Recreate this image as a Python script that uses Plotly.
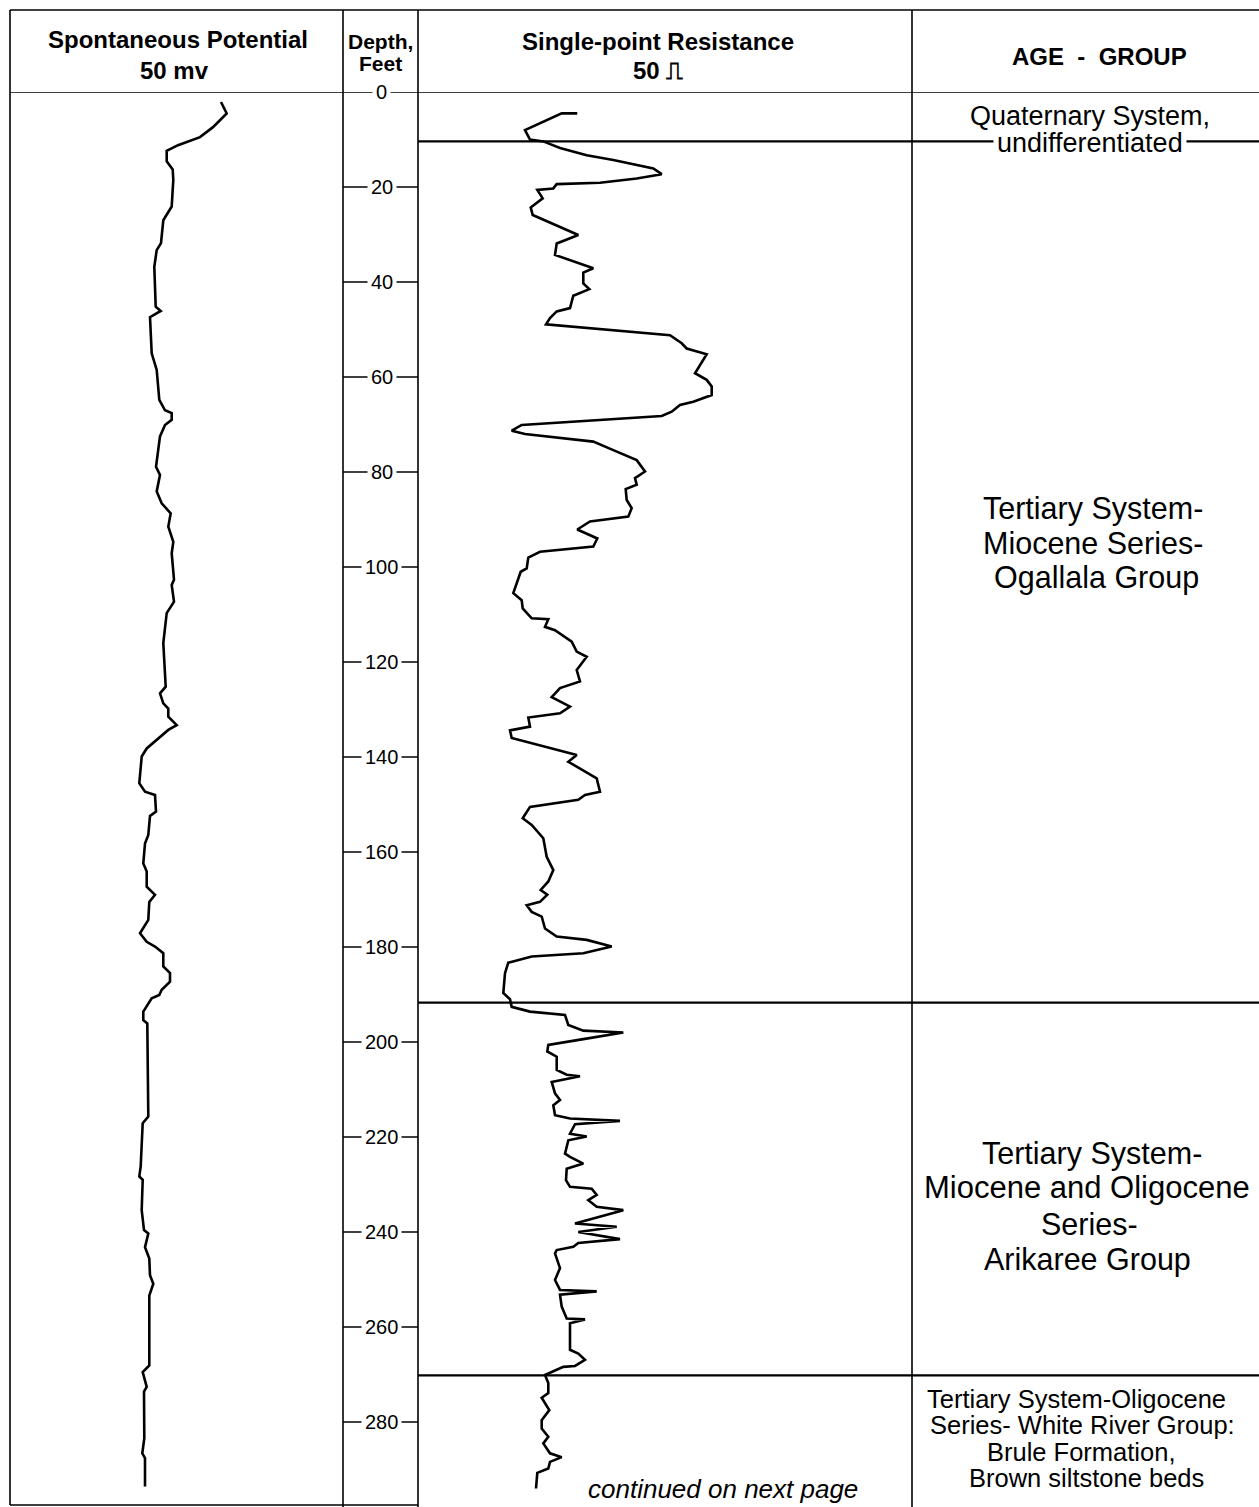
import plotly.graph_objects as go

W, H = 1259, 1507

# Spontaneous potential (relative deflection units across the track)
sp_depth = [2.1, 4.5, 7.4, 9.5, 11.2, 12.4, 14.6, 16.3, 18.5, 24.1, 27, 31.8, 33.3, 36.8,
            45.2, 46.1, 47.4, 55, 58.5, 64.8, 67, 67.6, 69, 70.1, 72.5, 78.9, 80.6, 84.1,
            86.6, 88.7, 91.5, 94.7, 97.1, 102.7, 103.8, 107.3, 109.7, 116, 125.2, 126.6,
            128.7, 129.8, 131.5, 133.3, 134.3, 138.2, 139.9, 145.5, 147.3, 148, 151.5,
            152.4, 156.4, 158.2, 162.4, 164.1, 167.3, 169, 170.5, 174.3, 177.1, 178.9,
            179.9, 181.3, 184.1, 185.5, 187.3, 189, 190.1, 190.8, 193.6, 195.4, 196.1,
            205.0, 215.7, 217.1, 226.2, 228.3, 229, 235.4, 239.6, 240.3, 243.2, 245.6, 249.1,
            250.9, 253.4, 268.1, 269.5, 272.6, 273.6, 283.4, 286.6, 287.6, 293.6]
sp_value = [221, 226.7, 213, 200, 178, 166.7, 166.7, 172.7, 173.3, 171.7, 163.3, 161, 156.7, 154.3,
            155.7, 160.7, 150, 151.7, 156.7, 159.3, 165, 171.7, 171.7, 165, 160, 156, 160, 156.7,
            161.7, 170.7, 168.3, 173.3, 171.7, 174, 171.7, 174, 166.7, 163.3, 165.7, 160,
            163.3, 168.3, 168.3, 176.7, 168.3, 146.7, 141.7, 139.3, 145, 155, 156,
            150, 148.3, 145, 143.3, 146.7, 146.7, 155, 149.3, 148.3, 140, 146.7,
            155, 163.3, 163.3, 170, 170, 161.7, 159.3, 151.7, 143.3, 143.3, 147.3,
            147.7, 148.3, 142.7, 140.7, 139.3, 142.7, 141.7, 144, 148.3, 145, 149.3, 150,
            153.3, 149.3, 149.3, 142.7, 146.7, 144, 144.3, 142.3, 145, 145]

# Single-point resistance (relative deflection units across the track)
res_depth = [4.5, 4.5, 8, 10, 10.4, 11.8, 13.3, 14.3, 16.1, 17.3, 18.2, 19.1, 19.4, 20.3, 20.6,
             22.4, 24.3, 25.9, 30.1, 31.9, 34.3, 37.1, 38, 40.3, 41.5, 42.9, 45.5, 46.2, 47.6,
             48.9, 51.2, 52.9, 54, 55.2, 59.2, 60.6, 62, 63.8, 65.2, 65.9, 67.3, 68.2, 70.1,
             71.3, 72, 73.6, 75.4, 77.5, 79.9, 81.3, 82.7, 83.6, 85.9, 87.6, 89.4, 90.4, 92.1,
             94, 95.7, 96.8, 98, 100.3, 101, 105.5, 107, 108.7, 110.8, 111, 112.6, 113.3,
             115.7, 117.8, 118.9, 121.7, 124.1, 125.5, 127.4, 129.4, 130.8, 131.7, 133.6,
             134.4, 136, 137.8, 139.6, 141, 144.5, 147.3, 148, 149, 150.5, 152.9, 154.3,
             157.1, 161, 163.8, 166.2, 168, 169, 170.5, 171.2, 172.6, 173.6, 176.1, 177.8,
             178.5, 179.9, 181.3, 182, 183.3, 185.5, 189.7, 191, 192.6, 193.6, 194.3, 196.4,
             197.6, 198, 199.4, 200.6, 202, 203.1, 205.9, 206.9, 207.2, 208.4, 210.8, 212.2,
             213.3, 215.4, 216.1, 216.6, 217.3, 219.3, 219.9, 220.7, 223.5, 224.2, 225.6,
             226.7, 229.1, 230.5, 230.9, 232.2, 233.3, 234.7, 235.4, 238.2, 238.9, 240,
             241.5, 242.3, 243.1, 243.8, 244.5, 247.6, 250.1, 252.2, 252.5, 253.2, 255.7,
             258.2, 258.4, 259.2, 264.8, 265.6, 266.9, 268.2, 268.4, 270.1, 271.8, 273.9,
             274.9, 277.5, 279.6, 281.4, 283.1, 284.5, 286.6, 287.4, 288.4, 289.8, 290.7, 294]
res_value = [577.3, 561.7, 525, 530, 543.3, 560, 586.7, 613.3, 653.3, 661.7, 636.7, 600, 556.7, 553.3, 537.3,
             542.7, 530.7, 532.7, 578.3, 556.7, 555, 593.3, 583.3, 583.3, 589.3, 573.3, 570, 556.7, 550,
             546, 670, 681.7, 686.7, 706.7, 695, 706.7, 711.7, 711.7, 693.3, 680, 671.7, 661.7, 521.7,
             511.7, 525, 593.3, 613.3, 636.7, 645, 635, 636.7, 625.7, 626.7, 631.7, 628.3, 590, 577.3,
             597.3, 593.3, 540, 528.3, 526.7, 520.7, 513.3, 521.7, 522.7, 531.7, 548.3, 545, 555,
             571.7, 576.7, 586.7, 576.7, 580, 560, 551.7, 570, 560, 528.3, 530,
             510, 511.7, 543.3, 576.7, 568.3, 596.7, 600, 585, 578.3, 530, 522.7, 531.7,
             543.3, 546.7, 553.3, 548.3, 540.7, 547.3, 540, 526.7, 531.7, 541.7, 545, 556.7,
             586.7, 611.7, 583.3, 531.7, 508.3, 505, 503.3, 510, 511.7, 530, 565, 568.3,
             583.3, 623.3, 583.3, 548.3, 547.3, 556.7, 556.7, 566.7, 580, 551.7, 555, 560,
             553.3, 555, 570, 620, 575, 570, 586.7, 568.3, 565, 570, 583.3,
             566.7, 566, 570, 591.7, 596.7, 588.3, 596.7, 623.3, 575, 616.7, 578.3,
             620, 578.3, 573.3, 556.7, 555, 560, 555, 560, 596.7, 560, 561.7,
             566.7, 585, 570, 570, 578.3, 585, 575, 563.3, 545, 548.3, 548.3,
             541.7, 549.3, 541.7, 541.7, 548.3, 543.3, 550, 561.7, 550, 548.3, 537.3, 536]

depth_ticks = [0, 20, 40, 60, 80, 100, 120, 140, 160, 180, 200, 220, 240, 260, 280]
boundary_depths = [10.4, 191.7, 270.2]

age_lines = ["undifferentiated", "Quaternary System,",
             "Tertiary System-", "Miocene Series-", "Ogallala Group",
             "Tertiary System-", "Miocene and Oligocene", "Series-", "Arikaree Group",
             "Tertiary System-Oligocene", "Series- White River Group:", "Brule Formation,",
             "Brown siltstone beds"]
age_line_depths = [10.7, 5.0, 87.6, 94.9, 102.3, 223.4, 230.7, 238.3, 245.7,
                   275.2, 280.6, 286.3, 291.8]
age_line_sizes = [27, 27, 30.5, 30.5, 30.5, 30.5, 31, 30.5, 30.5, 25.5, 25.5, 25.5, 25.5]
age_line_centers = [1090, 1090, 1093, 1093, 1096, 1092, 1087, 1089, 1087, 1076, 1082, 1081, 1086]

# ---------------- layout geometry (pixels) ----------------
L, TOP, HDR, BOT = 10, 10, 92, 1505
C_SP, C_DEP, C_AGE = 343, 418, 912
PX_PER_FT = 4.75
D_BOTTOM = (BOT - HDR) / PX_PER_FT


def xp(px):
    return px / W


def yp(py):
    return 1 - py / H


FONT = "Liberation Sans, Arial, sans-serif"
fig = go.Figure()

fig.add_trace(go.Scatter(x=sp_value, y=sp_depth, mode="lines", xaxis="x", yaxis="y",
                         line=dict(color="black", width=2.6), hoverinfo="skip"))
fig.add_trace(go.Scatter(x=res_value, y=res_depth, mode="lines", xaxis="x2", yaxis="y",
                         line=dict(color="black", width=2.6), hoverinfo="skip"))

shapes = []
line_style = dict(color="black", width=1.6)
# outer / header lines
shapes.append(dict(type="line", xref="paper", yref="paper", x0=xp(L), x1=1, y0=yp(TOP), y1=yp(TOP), line=line_style))
shapes.append(dict(type="line", xref="paper", yref="paper", x0=xp(L), x1=xp(C_DEP), y0=yp(BOT), y1=yp(BOT), line=line_style))
shapes.append(dict(type="line", xref="paper", yref="paper", x0=xp(L), x1=xp(L), y0=yp(TOP), y1=yp(BOT), line=line_style))
for cx in (C_SP, C_DEP, C_AGE):
    shapes.append(dict(type="line", xref="paper", yref="paper", x0=xp(cx), x1=xp(cx),
                       y0=yp(TOP), y1=0, line=line_style))
# header bottom line (depth 0)
shapes.append(dict(type="line", xref="paper", yref="y", x0=xp(L), x1=1, y0=0, y1=0, line=line_style))
# depth ticks
for d in depth_ticks[1:]:
    shapes.append(dict(type="line", xref="paper", yref="y", x0=xp(C_SP), x1=xp(C_DEP), y0=d, y1=d,
                       line=dict(color="black", width=1.5)))
# formation boundaries
for d in boundary_depths:
    shapes.append(dict(type="line", xref="paper", yref="y", x0=xp(C_DEP), x1=1, y0=d, y1=d,
                       line=dict(color="black", width=2.2)))

ann = []
def header(text, xc, yc, size):
    ann.append(dict(text=text, xref="paper", yref="paper", x=xp(xc), y=yp(yc), showarrow=False,
                    xanchor="center", yanchor="middle", font=dict(family=FONT, size=size, color="black")))

header("<b>Spontaneous Potential</b>", 178, 40, 24)
header("<b>50 mv</b>", 174, 70, 24)
header("<b>Depth,</b>", (C_SP + C_DEP) / 2, 41, 21)
header("<b>Feet</b>", (C_SP + C_DEP) / 2, 64, 21)
header("<b>Single-point Resistance</b>", 658, 41, 24)
header("<b>50 ⎍</b>", 658, 70, 24)
header("<b>AGE  -  GROUP</b>", 1099, 57, 24)

for d in depth_ticks:
    ann.append(dict(text=str(d), xref="paper", yref="y", x=xp((C_SP + C_DEP) / 2 + 1), y=d,
                    showarrow=False, xanchor="center", yanchor="middle", bgcolor="white",
                    borderpad=3, font=dict(family=FONT, size=20, color="black")))

for t, d, s, cx in zip(age_lines, age_line_depths, age_line_sizes, age_line_centers):
    ann.append(dict(text=t, xref="paper", yref="y", x=xp(cx), y=d,
                    showarrow=False, xanchor="center", yanchor="middle",
                    bgcolor="white" if t == "undifferentiated" else "rgba(0,0,0,0)", borderpad=3,
                    font=dict(family=FONT, size=s, color="black")))

ann.append(dict(text="<i>continued on next page</i>", xref="paper", yref="y", x=xp(723), y=294.0,
                showarrow=False, xanchor="center", yanchor="middle",
                font=dict(family=FONT, size=26, color="black")))

fig.update_layout(
    width=W, height=H, margin=dict(l=0, r=0, t=0, b=0),
    paper_bgcolor="white", plot_bgcolor="white", showlegend=False,
    xaxis=dict(domain=[xp(L), xp(C_SP)], range=[L, C_SP], visible=False, fixedrange=True),
    xaxis2=dict(domain=[xp(C_DEP), xp(C_AGE)], range=[C_DEP, C_AGE], visible=False, fixedrange=True,
                anchor="y"),
    yaxis=dict(domain=[yp(BOT), yp(HDR)], range=[D_BOTTOM, 0], visible=False, fixedrange=True),
    shapes=shapes, annotations=ann,
)

fig.write_html("out.html", config={"displayModeBar": False},
               post_script="document.body.style.margin='0';document.body.style.overflow='hidden';")
